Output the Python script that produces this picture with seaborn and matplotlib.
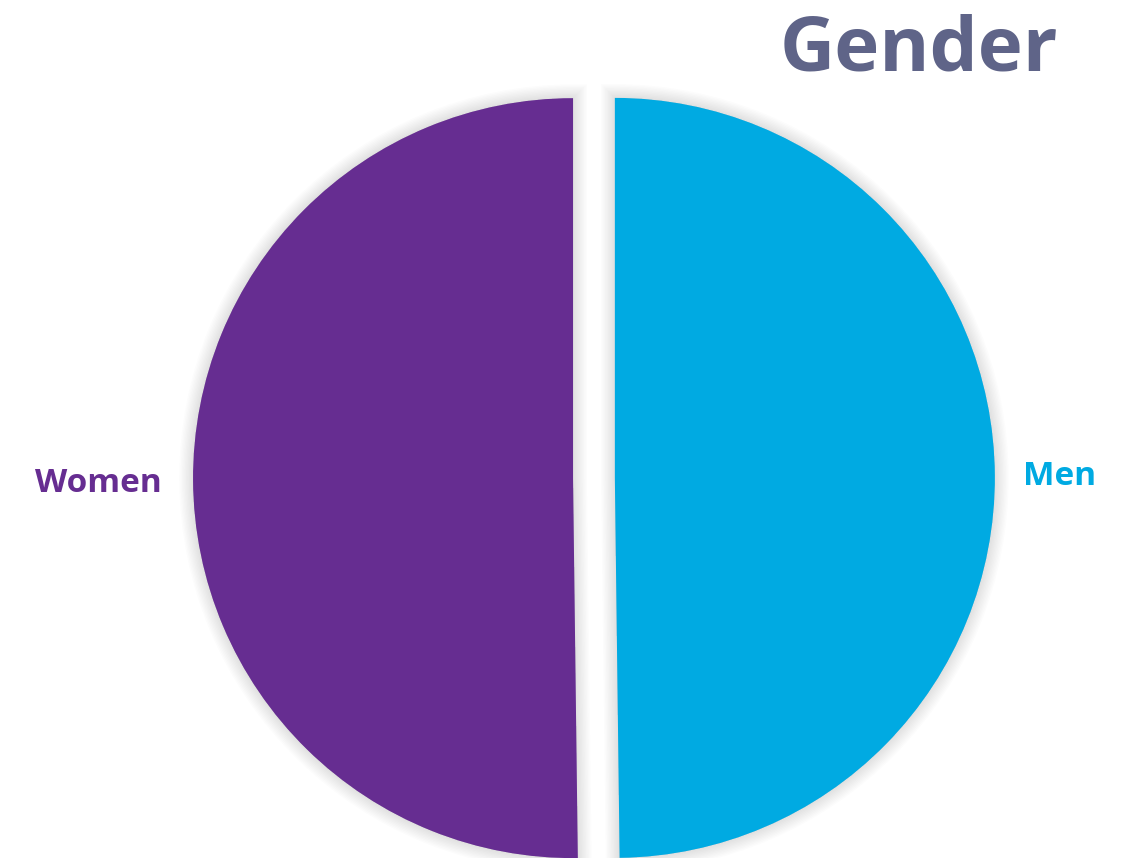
import matplotlib
matplotlib.use("Agg")
import matplotlib.pyplot as plt
import matplotlib.patheffects as pe
import seaborn as sns

# Gender split
categories = ["Men", "Women"]
shares = [49.8, 50.2]
colors = ["#00AAE2", "#662D91"]
title = "Gender"

sns.set_theme(style="white")
plt.rcParams["font.family"] = ["Open Sans", "DejaVu Sans"]

fig = plt.figure(figsize=(11.29, 8.58), dpi=100)
ax = fig.add_axes([0, 0, 1, 1])

wedges, _ = ax.pie(
    shares,
    colors=colors,
    startangle=90,
    counterclock=False,
    explode=[0.055, 0.055],
    radius=1.0,
    wedgeprops=dict(linewidth=0),
)

# soft drop shadow around each slice: many faint strokes for a smooth fade
glow = [pe.Stroke(linewidth=lw, foreground="black", alpha=0.012)
        for lw in range(20, 0, -2)]
glow.append(pe.Normal())
for w in wedges:
    w.set_path_effects(glow)

# slice labels in matching colours
label_pos = {"Men": (1.226, 0.003), "Women": (-1.303, -0.015)}
for name, col in zip(categories, colors):
    x, y = label_pos[name]
    ax.text(x, y, name, color=col, fontsize=24, fontweight="bold",
            ha="center", va="center")

ax.text(0.855, 1.124, title, color="#5F6488", fontsize=55,
        fontweight="bold", ha="center", va="center")

ax.set_xlim(-1.563, 1.408)
ax.set_ylim(-1.0, 1.258)
ax.set_aspect("auto")
ax.axis("off")

fig.savefig("out.png", dpi=100, facecolor="white")
